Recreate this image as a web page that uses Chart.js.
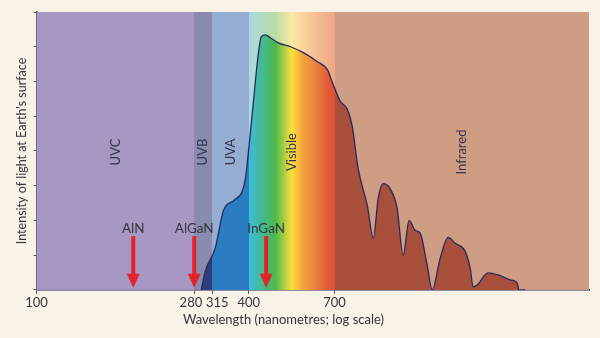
<!DOCTYPE html>
<html>
<head>
<meta charset="utf-8">
<script src="https://cdn.jsdelivr.net/npm/chart.js@4/dist/chart.umd.min.js"></script>
<style>
  html, body { margin: 0; padding: 0; background: #f8f3e6; }
  #wrap { width: 600px; height: 338px; }
</style>
</head>
<body>
<div id="wrap"><canvas id="spectrumChart" width="600" height="338"></canvas></div>
<script>
// solar spectrum (nm, arbitrary intensity units 0-8)
const wavelengths = [293, 301, 321, 339, 362, 383, 391, 399, 412, 426, 434, 446, 460, 485, 525, 571, 626, 668, 694, 727,
  761, 786, 817, 867, 902, 931, 962, 1007, 1054, 1096, 1140, 1186, 1225, 1282, 1325, 1396, 1471, 1540, 1643, 1698,
  1731, 1777, 1909, 2038, 2204, 2307, 2337, 2430];
const intensity = [0, 0.54, 1.2, 2.29, 2.57, 2.83, 3.2, 3.97, 5.4, 6.83, 7.29, 7.34, 7.26, 7.11, 7.0, 6.83, 6.57, 6.34, 5.91, 5.43,
  5.2, 4.71, 3.49, 2.43, 1.49, 2.63, 3.06, 2.91, 2.34, 1.0, 2.0, 1.71, 1.63, 0.71, 0, 0.91, 1.51, 1.34, 1.11, 0.63,
  0.09, 0.14, 0.49, 0.43, 0.29, 0.2, 0, 0];

// spectral bands
const bandEdges = [100, 280, 315, 400, 700, 3690];
const bandNames = ['UVC', 'UVB', 'UVA', 'Visible', 'Infrared'];

// x-axis tick labels
const xTicks = [100, 280, 315, 400, 700];
const xTickText = ['100', '280  ', '   315', '400', '700'];

// semiconductor markers
const arrowLabels = ['AlN', 'AlGaN', 'InGaN'];
const arrowWavelengths = [188, 280, 448];

const bandBg = ['#a698c3', '#8a8bae', '#95acd3', null, '#cf9c84'];
const bandFill = ['#a698c3', '#2f3d80', '#2a7dc1', null, '#a8503c'];
const visibleBgStops = [[0, '#a9d9e1'], [0.31, '#b9dca6'], [0.5, '#fde8a2'], [0.7, '#f8c899'], [1, '#efa687']];
const visibleFillStops = [[0, '#3cbcda'], [0.31, '#4cb84c'], [0.5, '#fce03c'], [0.63, '#f3a23e'], [0.75, '#ee8a3e'], [0.92, '#e15c38'], [1, '#dc5236']];

const font = "Lato, 'Open Sans', sans-serif";
const textColor = '#35353c';

function visibleGradient(ctx, chart, stops, base) {
  const x = chart.scales.x;
  const area = chart.chartArea;
  const g = ctx.createLinearGradient(area.left, 0, area.right, 0);
  const w = area.right - area.left;
  const frac = v => Math.min(1, Math.max(0, (x.getPixelForValue(v) - area.left) / w));
  for (let i = 0; i < bandNames.length; i++) {
    const a = frac(bandEdges[i]), b = frac(bandEdges[i + 1]);
    if (base[i]) {
      g.addColorStop(a, base[i]);
      g.addColorStop(b, base[i]);
    } else {
      stops.forEach(s => g.addColorStop(a + (b - a) * s[0], s[1]));
    }
  }
  return g;
}

const bandsPlugin = {
  id: 'bands',
  beforeDatasetsDraw(chart) {
    const { ctx, chartArea: area } = chart;
    ctx.save();
    ctx.fillStyle = visibleGradient(ctx, chart, visibleBgStops, bandBg);
    ctx.fillRect(area.left, area.top, area.right - area.left, area.bottom - area.top);
    ctx.restore();
  },
  afterDatasetsDraw(chart) {
    const { ctx, chartArea: area, scales: { x, y } } = chart;
    ctx.save();
    // band names
    ctx.font = '13px ' + font;
    ctx.fillStyle = '#34334a';
    ctx.textAlign = 'center';
    ctx.textBaseline = 'middle';
    bandNames.forEach((name, i) => {
      const cx = (x.getPixelForValue(bandEdges[i]) + x.getPixelForValue(bandEdges[i + 1])) / 2;
      ctx.save();
      ctx.translate(cx, y.getPixelForValue(3.97));
      ctx.rotate(-Math.PI / 2);
      ctx.fillText(name, 0, 0);
      ctx.restore();
    });
    // arrows
    arrowWavelengths.forEach((w, i) => {
      const px = x.getPixelForValue(w);
      const top = y.getPixelForValue(1.55);
      const tip = y.getPixelForValue(0.06);
      ctx.fillStyle = '#e3232b';
      ctx.fillRect(px - 2, top, 4, tip - top - 12);
      ctx.beginPath();
      ctx.moveTo(px - 6.5, tip - 14);
      ctx.lineTo(px + 6.5, tip - 14);
      ctx.lineTo(px, tip);
      ctx.closePath();
      ctx.fill();
      ctx.font = '13.5px ' + font;
      ctx.fillStyle = textColor;
      ctx.fillText(arrowLabels[i], px, y.getPixelForValue(1.77));
    });
    // x-axis title
    ctx.font = '13px ' + font;
    ctx.fillStyle = textColor;
    ctx.fillText('Wavelength (nanometres; log scale)', area.left + (area.right - area.left) * 0.447, area.bottom + 30);
    ctx.restore();
  }
};

new Chart(document.getElementById('spectrumChart'), {
  type: 'line',
  data: {
    datasets: [{
      data: wavelengths.map((w, i) => ({ x: w, y: intensity[i] })),
      borderColor: '#27285e',
      borderWidth: 1.3,
      pointRadius: 0,
      cubicInterpolationMode: 'monotone',
      fill: 'origin',
      backgroundColor: function (context) {
        const chart = context.chart;
        if (!chart.chartArea) return 'transparent';
        return visibleGradient(chart.ctx, chart, visibleFillStops, bandFill);
      }
    }]
  },
  options: {
    responsive: false,
    animation: false,
    layout: { padding: { left: 10.6, right: 11, top: 12, bottom: 25.5 } },
    plugins: { legend: { display: false }, tooltip: { enabled: false } },
    scales: {
      x: {
        type: 'logarithmic',
        min: 100,
        max: 3690,
        afterBuildTicks: axis => { axis.ticks = xTicks.map(v => ({ value: v })); },
        ticks: {
          autoSkip: false,
          maxRotation: 0,
          padding: 1.5,
          color: textColor,
          font: { family: font, size: 13 },
          callback: v => xTickText[xTicks.indexOf(v)]
        },
        grid: { drawOnChartArea: false, drawTicks: true, tickLength: 4, color: '#555' },
        border: { color: '#27285e', width: 1.5 }
      },
      y: {
        min: 0,
        max: 8,
        ticks: { display: false, stepSize: 1 },
        grid: { drawOnChartArea: false, drawTicks: true, tickLength: 3, color: '#555' },
        border: { color: '#4a4a5a', width: 1.5 },
        title: {
          display: true,
          text: "Intensity of light at Earth's surface",
          color: textColor,
          font: { family: font, size: 12.5 },
          padding: { top: 4, bottom: 4 }
        }
      }
    }
  },
  plugins: [bandsPlugin]
});
</script>
</body>
</html>
